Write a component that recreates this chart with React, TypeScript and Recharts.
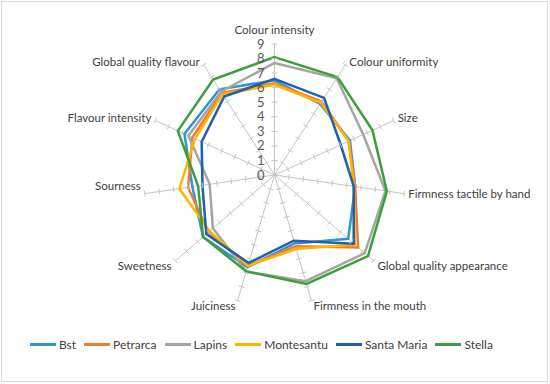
import React from "react";
import {
  RadarChart,
  Radar,
  PolarGrid,
  PolarAngleAxis,
  PolarRadiusAxis,
  Legend,
} from "recharts";

const categories = [
  "Colour intensity",
  "Colour uniformity",
  "Size",
  "Firmness tactile by hand",
  "Global quality appearance",
  "Firmness in the mouth",
  "Juiciness",
  "Sweetness",
  "Sourness",
  "Flavour intensity",
  "Global quality flavour",
];

const bst = [6.5, 5.8, 5.7, 5.6, 6.7, 4.9, 6.6, 6.5, 5.7, 6.8, 7.0];
const petrarca = [6.3, 6.0, 5.6, 5.6, 7.6, 5.1, 6.5, 6.0, 6.0, 6.2, 6.7];
const lapins = [7.7, 7.9, 6.7, 7.7, 8.2, 7.6, 6.9, 5.6, 4.5, 6.5, 6.8];
const montesantu = [6.2, 5.9, 5.6, 5.5, 7.3, 5.3, 6.5, 5.9, 6.6, 6.0, 6.6];
const santaMaria = [6.6, 6.3, 5.0, 5.5, 7.2, 4.7, 6.3, 6.2, 5.0, 5.5, 6.4];
const stella = [8.1, 8.0, 7.4, 7.8, 8.5, 7.8, 6.9, 6.5, 5.3, 7.3, 7.8];

const seriesNames = ["Bst", "Petrarca", "Lapins", "Montesantu", "Santa Maria", "Stella"];
const seriesValues = [bst, petrarca, lapins, montesantu, santaMaria, stella];
const seriesColors = ["#2E95D3", "#ED7D31", "#A5A5A5", "#FFB400", "#1F5FAD", "#3C9E3C"];

const radiusTicks = [0, 1, 2, 3, 4, 5, 6, 7, 8, 9];

const chartData = categories.map((category, i) => {
  const row: Record<string, string | number> = { category };
  seriesNames.forEach((name, k) => {
    row[name] = seriesValues[k][i];
  });
  return row;
});

const CX = 274.5;
const CY = 175;
const R = 131;
const MAX = 9;
const FONT = "Lato, 'Open Sans', sans-serif";
const GRID = "#C4C4C4";

function AngleTick(props: any) {
  const { payload } = props;
  const rad = (payload.coordinate * Math.PI) / 180;
  const dx = Math.cos(rad);
  const dy = -Math.sin(rad);
  const ex = CX + dx * R;
  const ey = CY + dy * R;

  let anchor: "start" | "middle" | "end" = "middle";
  let tx = ex;
  let ty = ey - 14;
  if (Math.abs(dx) > 0.05) {
    anchor = dx > 0 ? "start" : "end";
    const off = Math.abs(dx) < 0.4 ? 2 : 4;
    tx = ex + (dx > 0 ? off : -off);
    if (dy > 0.5) ty = ey + 5;
    else if (dy > 0) ty = dx > 0 ? ey : ey - 8;
    else ty = ey - 3;
  }

  return (
    <g>
      {radiusTicks.slice(1).map((t) => {
        const r = (R * t) / MAX;
        const px = CX + dx * r;
        const py = CY + dy * r;
        return (
          <line
            key={t}
            x1={px - dy * 3}
            y1={py + dx * 3}
            x2={px + dy * 3}
            y2={py - dx * 3}
            stroke={GRID}
            strokeWidth={1}
          />
        );
      })}
      <text
        x={tx}
        y={ty}
        dy="0.35em"
        textAnchor={anchor}
        fontSize={11.5}
        fontFamily={FONT}
        fill="#404040"
      >
        {payload.value}
      </text>
    </g>
  );
}

function RadiusTick(props: any) {
  const { x, y, payload } = props;
  return (
    <text
      x={x - 10}
      y={y}
      dy="0.35em"
      textAnchor="end"
      fontSize={13}
      fontFamily={FONT}
      fill="#595959"
    >
      {payload.value}
    </text>
  );
}

function LegendContent() {
  return (
    <div
      style={{
        display: "flex",
        justifyContent: "flex-start",
        paddingLeft: 30,
        gap: 8,
        fontFamily: FONT,
        fontSize: 12,
        color: "#404040",
      }}
    >
      {seriesNames.map((name, i) => (
        <div key={name} style={{ display: "flex", alignItems: "center" }}>
          <span
            style={{
              display: "inline-block",
              width: 26,
              height: 2.5,
              background: seriesColors[i],
              marginRight: 3,
            }}
          />
          <span>{name}</span>
        </div>
      ))}
    </div>
  );
}

export default function App() {
  return (
    <div
      style={{
        position: "absolute",
        left: 0,
        top: 0,
        width: 550,
        height: 384,
        background: "#fff",
      }}
    >
      <div
        style={{
          position: "absolute",
          left: 1,
          top: 1,
          width: 547,
          height: 381,
          border: "1px solid #D9D9D9",
          boxSizing: "border-box",
        }}
      />
      <RadarChart
        width={550}
        height={384}
        cx={CX}
        cy={CY}
        outerRadius={R}
        data={chartData}
        margin={{ top: 0, right: 0, bottom: 0, left: 0 }}
      >
        <PolarGrid polarRadius={[]} stroke={GRID} strokeWidth={1} />
        <PolarAngleAxis
          dataKey="category"
          axisLine={false}
          tickLine={false}
          tick={<AngleTick />}
        />
        <PolarRadiusAxis
          angle={90}
          domain={[0, MAX]}
          tickCount={10}
          axisLine={false}
          tick={<RadiusTick />}
        />
        {seriesNames.map((name, i) => (
          <Radar
            key={name}
            name={name}
            dataKey={name}
            stroke={seriesColors[i]}
            strokeWidth={2.5}
            fill="none"
            fillOpacity={0}
            dot={false}
            isAnimationActive={false}
          />
        ))}
        <Legend
          content={<LegendContent />}
          wrapperStyle={{ position: "absolute", top: 337, left: 0, width: 550 }}
        />
      </RadarChart>
    </div>
  );
}
